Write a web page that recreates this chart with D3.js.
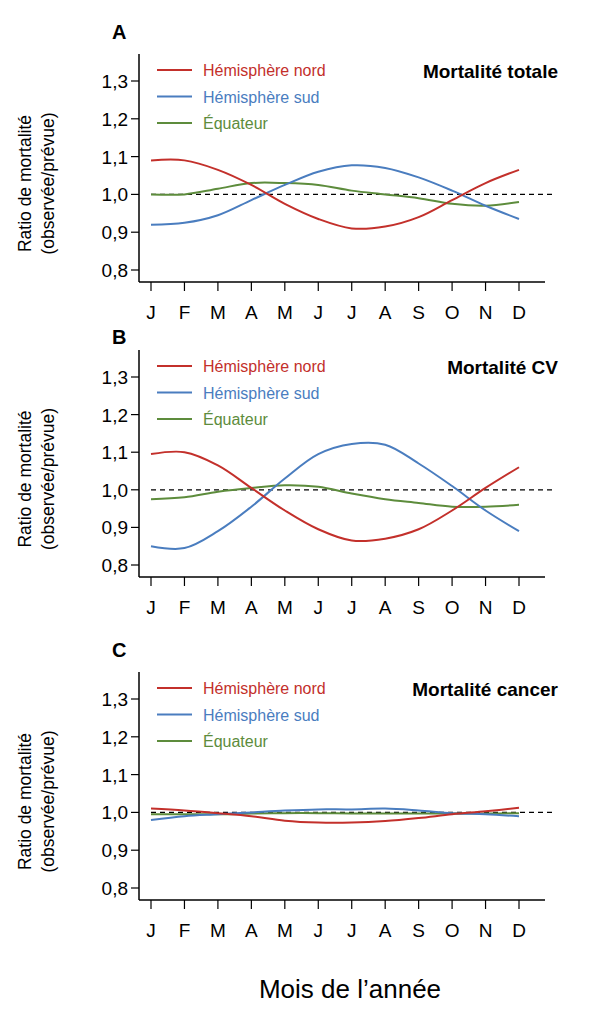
<!DOCTYPE html>
<html>
<head>
<meta charset="UTF-8">
<script src="https://d3js.org/d3.v7.min.js"></script>
<style>
  body { margin:0; background:#fff; }
  text { font-family: 'Liberation Sans', Arial, sans-serif; }
</style>
</head>
<body>
<svg id="chart" width="609" height="1024"></svg>
<script>
    var months = ["J","F","M","A","M","J","J","A","S","O","N","D"];
    var yTicks = [0.8, 0.9, 1.0, 1.1, 1.2, 1.3];
    var seriesNames = ["Hémisphère nord", "Hémisphère sud", "Équateur"];
    var colors = ["#c3302b", "#4a7dbf", "#5d8c3c"];

    var totalNord = [1.09,1.09,1.065,1.025,0.975,0.935,0.91,0.915,0.94,0.985,1.03,1.065];
    var totalSud  = [0.92,0.925,0.945,0.985,1.025,1.06,1.077,1.07,1.045,1.01,0.97,0.935];
    var totalEqu  = [1.0,1.0,1.015,1.03,1.03,1.025,1.01,1.0,0.99,0.975,0.97,0.98];

    var cvNord = [1.095,1.10,1.065,1.005,0.945,0.895,0.865,0.87,0.895,0.945,1.005,1.06];
    var cvSud  = [0.85,0.845,0.89,0.955,1.03,1.095,1.122,1.12,1.07,1.01,0.945,0.89];
    var cvEqu  = [0.975,0.98,0.995,1.005,1.012,1.008,0.99,0.975,0.965,0.955,0.955,0.96];

    var cancerNord = [1.01,1.005,0.998,0.99,0.978,0.973,0.973,0.977,0.985,0.995,1.003,1.012];
    var cancerSud  = [0.98,0.99,0.995,1.0,1.005,1.008,1.008,1.01,1.005,0.998,0.995,0.99];
    var cancerEqu  = [0.995,0.995,0.995,0.997,0.998,0.998,0.997,0.997,0.997,0.997,0.997,0.998];

    var panels = [
        {letter:"A", title:"Mortalité totale", series:[totalNord,totalSud,totalEqu], y13:81, y08:270, letterY:39},
        {letter:"B", title:"Mortalité CV", series:[cvNord,cvSud,cvEqu], y13:377, y08:565, letterY:344},
        {letter:"C", title:"Mortalité cancer", series:[cancerNord,cancerSud,cancerEqu], y13:699, y08:888, letterY:657}
    ];

    var svg = d3.select("#chart");
    var x = d3.scaleLinear().domain([0, 11]).range([151, 519]);
    var axisX = 139, axisRight = 545;

    panels.forEach(function (p) {
        var y = d3.scaleLinear().domain([0.8, 1.3]).range([p.y08, p.y13]);
        var g = svg.append("g");
        var xAxisY = p.y08 + 12;

        g.append("text").attr("x", 112).attr("y", p.letterY)
            .attr("font-size", 20).attr("font-weight", "bold").text(p.letter);

        // y axis
        g.append("line").attr("x1", axisX).attr("x2", axisX)
            .attr("y1", p.y13 - 27).attr("y2", xAxisY).attr("stroke", "#000").attr("stroke-width", 1.5);
        g.selectAll(".yt").data(yTicks).enter().append("line")
            .attr("x1", axisX - 8).attr("x2", axisX)
            .attr("y1", d => y(d)).attr("y2", d => y(d)).attr("stroke", "#000").attr("stroke-width", 1.2);
        g.selectAll(".yl").data(yTicks).enter().append("text")
            .attr("x", axisX - 11).attr("y", d => y(d) + 7).attr("text-anchor", "end")
            .attr("font-size", 19).text(d => d3.format(".1f")(d).replace(".", ","));

        // x axis
        g.append("line").attr("x1", axisX).attr("x2", axisRight)
            .attr("y1", xAxisY).attr("y2", xAxisY).attr("stroke", "#000").attr("stroke-width", 1.5);
        g.selectAll(".xt").data(months).enter().append("line")
            .attr("x1", (d, i) => x(i)).attr("x2", (d, i) => x(i))
            .attr("y1", xAxisY).attr("y2", xAxisY + 9).attr("stroke", "#000").attr("stroke-width", 1.2);
        g.selectAll(".xl").data(months).enter().append("text")
            .attr("x", (d, i) => x(i)).attr("y", xAxisY + 37).attr("text-anchor", "middle")
            .attr("font-size", 19).text(d => d);

        // y label
        var cy = (p.y13 + p.y08) / 2 + 8;
        g.append("text").attr("transform", "translate(31," + cy + ") rotate(-90)")
            .attr("text-anchor", "middle").attr("font-size", 17.5).text("Ratio de mortalité");
        g.append("text").attr("transform", "translate(54," + cy + ") rotate(-90)")
            .attr("text-anchor", "middle").attr("font-size", 17.5).text("(observée/prévue)");

        // reference line
        g.append("line").attr("x1", 151).attr("x2", 553)
            .attr("y1", y(1)).attr("y2", y(1))
            .attr("stroke", "#000").attr("stroke-width", 1.2).attr("stroke-dasharray", "5,4");

        var line = d3.line().x((d, i) => x(i)).y(d => y(d)).curve(d3.curveCatmullRom.alpha(0.5));
        [2, 1, 0].forEach(function (k) {
            g.append("path").datum(p.series[k]).attr("d", line)
                .attr("fill", "none").attr("stroke", colors[k]).attr("stroke-width", 2);
        });

        // legend
        seriesNames.forEach(function (name, k) {
            var ly = p.y13 - 11 + k * 26.5;
            g.append("line").attr("x1", 157).attr("x2", 192).attr("y1", ly).attr("y2", ly)
                .attr("stroke", colors[k]).attr("stroke-width", 2);
            g.append("text").attr("x", 203).attr("y", ly + 6).attr("font-size", 16)
                .attr("fill", colors[k]).text(name);
        });

        g.append("text").attr("x", 558).attr("y", p.y13 - 3).attr("text-anchor", "end")
            .attr("font-size", 19).attr("font-weight", "bold").text(p.title);
    });

    svg.append("text").attr("x", 350).attr("y", 998).attr("text-anchor", "middle")
        .attr("font-size", 26).text("Mois de l’année");
</script>
</body>
</html>
